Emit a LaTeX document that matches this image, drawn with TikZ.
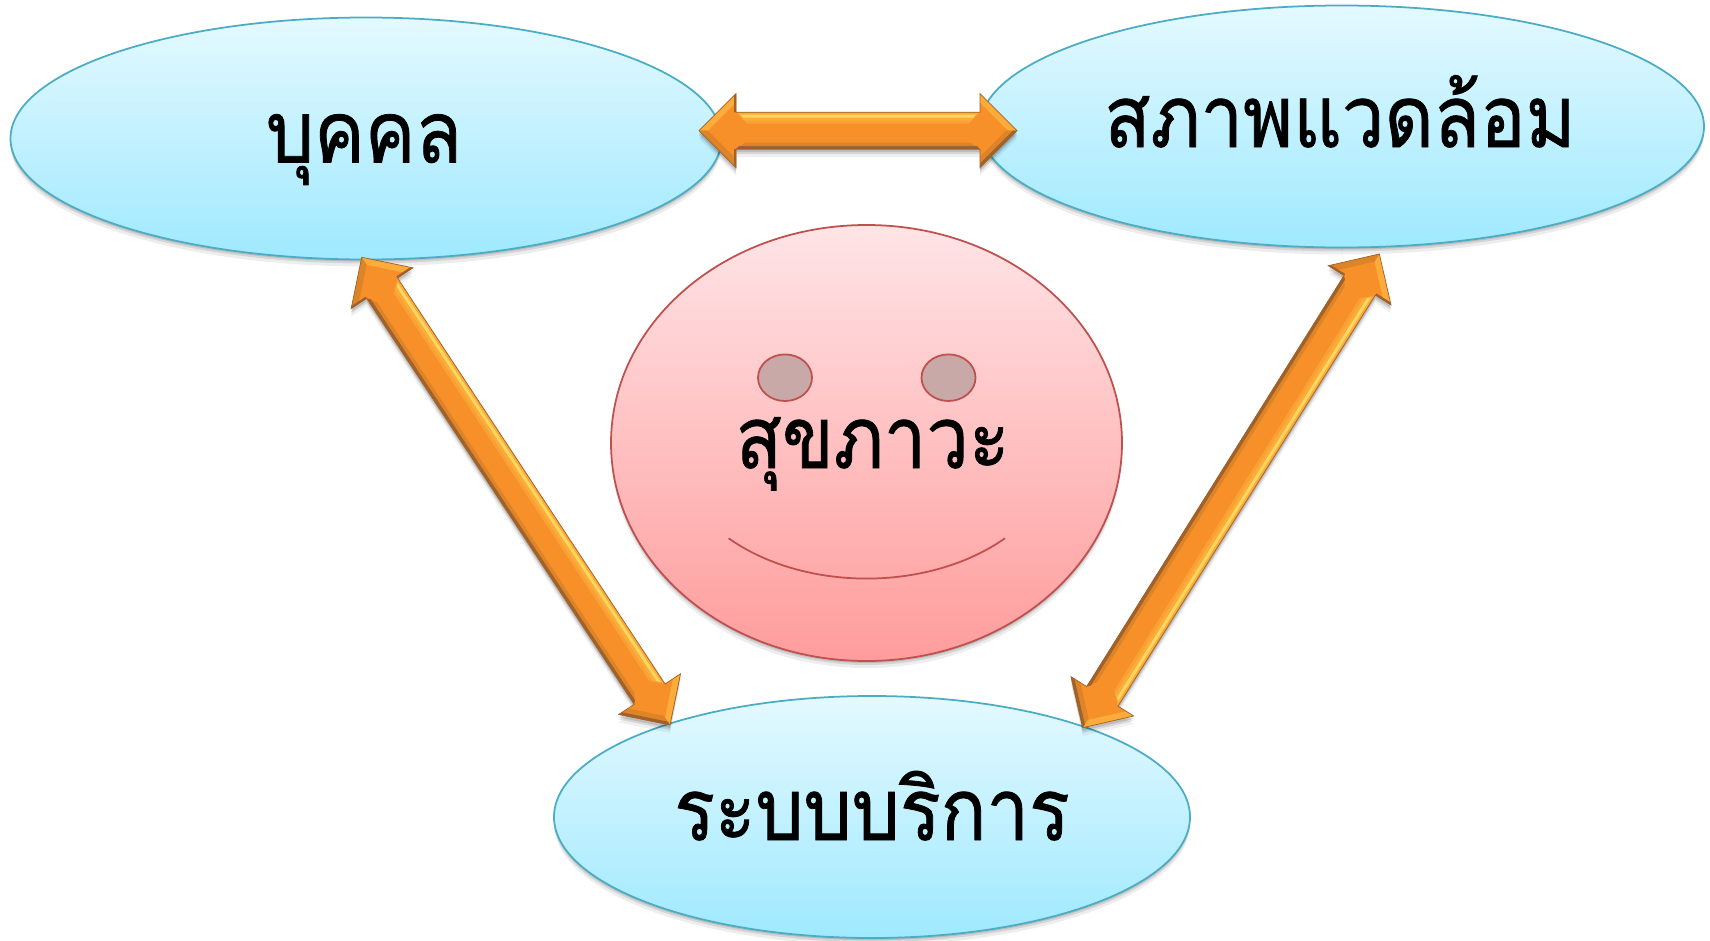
\documentclass[tikz,border=0pt]{standalone}
\usepackage{fontspec}
\usetikzlibrary{calc,shapes.geometric,shadows}
\newfontfamily\thaifont[Script=Thai,FakeBold=0.9,FakeStretch=0.88]{Loma}
\definecolor{bluetop}{HTML}{E4F9FF}
\definecolor{bluebot}{HTML}{9FE9FF}
\definecolor{blueline}{HTML}{4BACC6}
\definecolor{pinktop}{HTML}{FFE4E6}
\definecolor{pinkbot}{HTML}{FF9C9C}
\definecolor{redline}{HTML}{C0504D}
\definecolor{eyefill}{HTML}{C9A8A8}
\definecolor{arrowbody}{HTML}{F8902A}
\definecolor{arrowlight}{HTML}{FFD65E}
\definecolor{arrowmid}{HTML}{FBAC3A}
\definecolor{arrowdark}{HTML}{A0622A}
\definecolor{arrowlow}{HTML}{DE8428}
\tikzset{
  softshadow/.style={
    drop shadow={shadow xshift=0mm,shadow yshift=-0.2mm,fill=black,opacity=.12},
    drop shadow={shadow xshift=0mm,shadow yshift=-0.4mm,fill=black,opacity=.1},
    drop shadow={shadow xshift=0mm,shadow yshift=-0.7mm,fill=black,opacity=.07}},
  topic/.style={ellipse,draw=blueline,line width=0.5pt,top color=bluetop,bottom color=bluebot,
    softshadow,inner sep=0pt},
  word/.style={anchor=base,inner sep=0pt,font=\thaifont\fontsize{24.5}{30}\selectfont},
  eye/.style={ellipse,draw=redline,line width=0.5pt,fill=eyefill,inner sep=0pt,
    minimum width=5.4mm,minimum height=4.66mm},
}
\newcommand{\bevelarrow}[2]{
  \path let \p1=($(#2)-(#1)$) in \pgfextra{\pgfmathparse{atan2(\y1,\x1)}\xdef\arrang{\pgfmathresult}\pgfmathparse{veclen(\x1,\y1)/0.28453}\xdef\arrlen{\pgfmathresult}};
  \def\arrowoutline{(0,0) -- (37,37) -- (37,18.5) -- (\arrlen-37,18.5) -- (\arrlen-37,37) -- (\arrlen,0) -- (\arrlen-37,-37) -- (\arrlen-37,-18.5) -- (37,-18.5) -- (37,-37) -- cycle}
  \begin{scope}[shift={(#1)},rotate=\arrang,y=0.1mm]
    \fill[black,opacity=.12,shift={({-90-\arrang}:3)}] \arrowoutline;
    \fill[black,opacity=.1,shift={({-90-\arrang}:5)}] \arrowoutline;
    \fill[black,opacity=.06,shift={({-90-\arrang}:8)}] \arrowoutline;
    \fill[arrowbody] \arrowoutline;
    % top of the shaft
    \fill[arrowmid!60!arrowbody] (37,18.5) -- (\arrlen-37,18.5) -- (\arrlen-48,7) -- (48,7) -- cycle;
    \fill[arrowmid] (39,17.5) -- (\arrlen-39,17.5) -- (\arrlen-46,10) -- (46,10) -- cycle;
    \fill[arrowlight] (41,16) -- (\arrlen-41,16) -- (\arrlen-44,13) -- (44,13) -- cycle;
    % bottom of the shaft
    \fill[arrowlow] (37,-18.5) -- (\arrlen-37,-18.5) -- (\arrlen-46,-12) -- (46,-12) -- cycle;
    \fill[arrowdark] (37,-18.5) -- (\arrlen-37,-18.5) -- (\arrlen-40,-15.5) -- (40,-15.5) -- cycle;
    % the two heads
    \fill[arrowmid] (0,0) -- (37,37) -- (37,28) -- (9,0) -- cycle;
    \fill[arrowlow] (0,0) -- (37,-37) -- (37,-28) -- (9,0) -- cycle;
    \fill[arrowmid] (\arrlen,0) -- (\arrlen-37,37) -- (\arrlen-37,28) -- (\arrlen-9,0) -- cycle;
    \fill[arrowlow] (\arrlen,0) -- (\arrlen-37,-37) -- (\arrlen-37,-26) -- (\arrlen-11,0) -- cycle;
    \fill[arrowdark] (\arrlen,0) -- (\arrlen-37,-37) -- (\arrlen-37,-33) -- (\arrlen-4,0) -- cycle;
    \fill[arrowdark] (37,37) -- (37,18.5) -- (35,18.5) -- (35,35) -- cycle;
    \fill[arrowdark] (37,-37) -- (37,-18.5) -- (35,-18.5) -- (35,-35) -- cycle;
    \draw[arrowdark,line width=0.2pt] \arrowoutline;
  \end{scope}
}
\begin{document}
\begin{tikzpicture}[x=0.1mm,y=-0.1mm]
  \useasboundingbox (0,0) rectangle (1710,940);
  \node[topic,minimum width=71.1mm,minimum height=24.2mm] (person) at (366,138.5) {};
  \node[topic,minimum width=72.4mm,minimum height=24.2mm] (environ) at (1342,126.5) {};
  \node[topic,minimum width=63.6mm,minimum height=24.2mm] (service) at (872,817) {};
  \node[topic,draw=redline,top color=pinktop,bottom color=pinkbot,minimum width=51.1mm,minimum height=43.6mm] (health) at (866.5,443) {};
  \node[eye] (eyeleft) at (785,377.7) {};
  \node[eye] (eyeright) at (948.5,377.7) {};
  \coordinate (mouthleft) at (728.6,538.3);
  \coordinate (mouthright) at (1005,538.3);
  \draw[redline,line width=0.5pt] (mouthleft) .. controls (805,592) and (928,592) .. (mouthright);
  \node[word] (personword) at (364,162.5) {บุคคล};
  \node[word] (environword) at (1340,147) {สภาพแวดล้อม};
  \node[word] (serviceword) at (872,840) {ระบบบริการ};
  \node[word] (healthword) at (872.7,468) {สุขภาวะ};
  \coordinate (personE) at (699,130.7);
  \coordinate (environW) at (1017,130.7);
  \coordinate (personS) at (361.7,257.3);
  \coordinate (serviceNW) at (670,725);
  \coordinate (environS) at (1379.3,254);
  \coordinate (serviceNE) at (1082.7,727.7);
  \bevelarrow{personE}{environW}
  \bevelarrow{personS}{serviceNW}
  \bevelarrow{environS}{serviceNE}
\end{tikzpicture}
\end{document}
